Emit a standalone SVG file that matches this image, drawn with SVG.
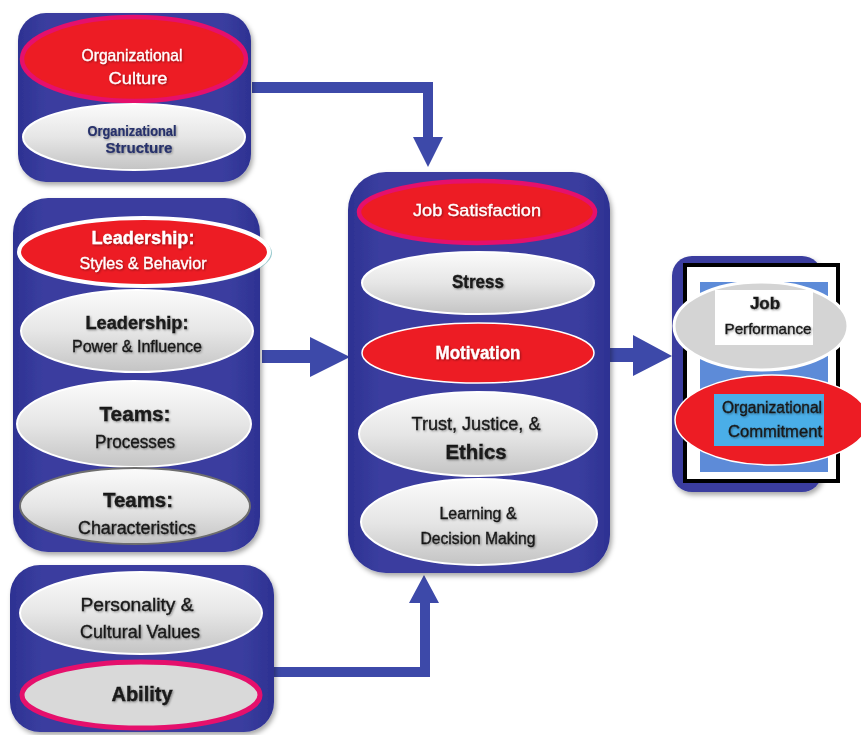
<svg xmlns="http://www.w3.org/2000/svg" width="861" height="735" viewBox="0 0 861 735">
<defs>
<linearGradient id="boxg" x1="0" y1="0" x2="1" y2="0">
<stop offset="0" stop-color="#2d3192"/>
<stop offset="0.12" stop-color="#3a3e9f"/>
<stop offset="0.88" stop-color="#3a3e9f"/>
<stop offset="1" stop-color="#2d3192"/>
</linearGradient>
<linearGradient id="grayg" x1="0" y1="0" x2="0" y2="1">
<stop offset="0" stop-color="#fbfbfb"/>
<stop offset="0.5" stop-color="#e6e6e6"/>
<stop offset="1" stop-color="#c4c4c4"/>
</linearGradient>
<filter id="sh" x="-10%" y="-10%" width="125%" height="125%">
<feDropShadow dx="2" dy="3" stdDeviation="2.5" flood-color="#000" flood-opacity="0.35"/>
</filter>
<filter id="ts" x="-10%" y="-30%" width="120%" height="160%">
<feDropShadow dx="1" dy="1" stdDeviation="1" flood-color="#000" flood-opacity="0.4"/>
</filter>
</defs>
<style>
.box{fill:url(#boxg);filter:url(#sh)}
.gray{fill:url(#grayg);stroke:#ffffff;stroke-width:2}
.red{fill:#ed1c24;stroke:#ffffff;stroke-width:1.5}
.redp{fill:#ed1c24;stroke:#e5106c;stroke-width:4.5}
.arrow{fill:#3d49a9}
text{font-family:"Liberation Sans",Arial,sans-serif;text-anchor:middle;filter:url(#ts)}
.w{fill:#ffffff;stroke:#ffffff;stroke-width:0.3}
.k{fill:#1a1a1a;stroke:#1a1a1a;stroke-width:0.35}
.n{fill:#26306a;stroke:#26306a;stroke-width:0.2;font-weight:bold}
.b{font-weight:bold}
</style>
<rect width="861" height="735" fill="#ffffff"/>

<g id="connectors">
<path class="arrow" d="M252,82 H433 V137 H443 L428,167 L413,137 H423 V93 H252 Z"/>
<path class="arrow" d="M262,350 H310 V337 L350,357 L310,377 V363 H262 Z"/>
<path class="arrow" d="M273,667 H420 V603 H409 L424,575 L439,603 H430 V677 H273 Z"/>
<path class="arrow" d="M610,348 H633 V335 L672,356 L633,376 V362 H610 Z"/>
</g>

<g id="org-box">
<rect class="box" x="18" y="13" width="233" height="169" rx="28"/>
<g id="org-culture">
<ellipse class="redp" cx="134" cy="59" rx="112" ry="42"/>
<text class="w" x="132" y="61" font-size="17" textLength="101" lengthAdjust="spacingAndGlyphs">Organizational</text>
<text class="w" x="138" y="84" font-size="17" textLength="59" lengthAdjust="spacingAndGlyphs">Culture</text>
</g>
<g id="org-structure">
<ellipse class="gray" cx="134" cy="137" rx="111" ry="33"/>
<text class="n" x="132" y="136" font-size="15" textLength="89" lengthAdjust="spacingAndGlyphs">Organizational</text>
<text class="n" x="139" y="153" font-size="15" textLength="67" lengthAdjust="spacingAndGlyphs">Structure</text>
</g>
</g>

<g id="leadership-box">
<rect class="box" x="13" y="198" width="247" height="354" rx="35"/>
<g id="leadership-styles">
<ellipse cx="146" cy="253" rx="126" ry="35" fill="#5aa9b0" opacity="0.6"/>
<ellipse cx="144" cy="252" rx="125" ry="34" fill="#ed1c24" stroke="#ffffff" stroke-width="4"/>
<text class="w b" x="143" y="244" font-size="18" textLength="103" lengthAdjust="spacingAndGlyphs">Leadership:</text>
<text class="w" x="143" y="269" font-size="16" textLength="127" lengthAdjust="spacingAndGlyphs">Styles &amp; Behavior</text>
</g>
<g id="leadership-power">
<ellipse class="gray" cx="137" cy="331" rx="116" ry="41"/>
<text class="k b" x="137" y="329" font-size="18" textLength="103" lengthAdjust="spacingAndGlyphs">Leadership:</text>
<text class="k" x="137" y="352" font-size="16" textLength="130" lengthAdjust="spacingAndGlyphs">Power &amp; Influence</text>
</g>
<g id="teams-processes">
<ellipse class="gray" cx="134" cy="424" rx="117" ry="43"/>
<text class="k b" x="135" y="421" font-size="20" textLength="71" lengthAdjust="spacingAndGlyphs">Teams:</text>
<text class="k" x="135" y="448" font-size="18" textLength="80" lengthAdjust="spacingAndGlyphs">Processes</text>
</g>
<g id="teams-characteristics">
<ellipse cx="135" cy="506" rx="115" ry="38" fill="url(#grayg)" stroke="#6e6e6e" stroke-width="2"/>
<text class="k b" x="138" y="507" font-size="20" textLength="70" lengthAdjust="spacingAndGlyphs">Teams:</text>
<text class="k" x="137" y="534" font-size="18" textLength="118" lengthAdjust="spacingAndGlyphs">Characteristics</text>
</g>
</g>

<g id="individual-box">
<rect class="box" x="10" y="565" width="264" height="167" rx="30"/>
<g id="personality">
<ellipse class="gray" cx="141" cy="613" rx="121" ry="41"/>
<text class="k" x="137" y="611" font-size="18" textLength="113" lengthAdjust="spacingAndGlyphs">Personality &amp;</text>
<text class="k" x="140" y="638" font-size="18" textLength="120" lengthAdjust="spacingAndGlyphs">Cultural Values</text>
</g>
<g id="ability">
<ellipse cx="141" cy="695" rx="119" ry="33" fill="#d9d9d9" stroke="#e5106c" stroke-width="5"/>
<text class="k b" x="142" y="701" font-size="20" textLength="61" lengthAdjust="spacingAndGlyphs">Ability</text>
</g>
</g>

<g id="center-box">
<rect class="box" x="348" y="172" width="262" height="401" rx="38"/>
<g id="job-satisfaction">
<ellipse class="redp" cx="477" cy="212" rx="118" ry="31"/>
<text class="w" x="477" y="216" font-size="17" textLength="128" lengthAdjust="spacingAndGlyphs">Job Satisfaction</text>
</g>
<g id="stress">
<ellipse class="gray" cx="478" cy="283" rx="116" ry="31"/>
<text class="k b" x="478" y="288" font-size="18" textLength="52" lengthAdjust="spacingAndGlyphs">Stress</text>
</g>
<g id="motivation">
<ellipse class="red" cx="478" cy="353" rx="116" ry="30"/>
<text class="w b" x="478" y="359" font-size="18" textLength="85" lengthAdjust="spacingAndGlyphs">Motivation</text>
</g>
<g id="trust">
<ellipse class="gray" cx="478" cy="434" rx="119" ry="42"/>
<text class="k" x="476" y="430" font-size="18" textLength="129" lengthAdjust="spacingAndGlyphs">Trust, Justice, &amp;</text>
<text class="k b" x="476" y="459" font-size="20" textLength="61" lengthAdjust="spacingAndGlyphs">Ethics</text>
</g>
<g id="learning">
<ellipse class="gray" cx="479" cy="522" rx="118" ry="43"/>
<text class="k" x="478" y="519" font-size="16" textLength="77" lengthAdjust="spacingAndGlyphs">Learning &amp;</text>
<text class="k" x="478" y="544" font-size="16" textLength="115" lengthAdjust="spacingAndGlyphs">Decision Making</text>
</g>
</g>

<g id="outcome-box">
<rect x="672" y="256" width="150" height="236" rx="20" fill="#3a3e9f" filter="url(#sh)"/>
<rect x="685" y="265" width="153" height="216" fill="#ffffff" stroke="#000000" stroke-width="4"/>
<rect x="700" y="282" width="128" height="190" fill="#5d8bd8"/>
<g id="job-performance">
<ellipse cx="761" cy="326" rx="87" ry="44" fill="#d4d4d4" stroke="#ffffff" stroke-width="3"/>
<rect x="715" y="290" width="98" height="55" fill="#ffffff"/>
<text class="k b" x="765" y="309" font-size="17">Job</text>
<text class="k" x="768" y="334" font-size="15" textLength="87" lengthAdjust="spacingAndGlyphs">Performance</text>
</g>
<g id="org-commitment">
<ellipse cx="772" cy="420" rx="97" ry="45" fill="#ed1c24" stroke="#ffffff" stroke-width="1.5"/>
<rect x="714" y="394" width="110" height="52" fill="#4aaee8"/>
<text class="k" x="772" y="413" font-size="16" textLength="100" lengthAdjust="spacingAndGlyphs">Organizational</text>
<text class="k" x="775" y="437" font-size="16" textLength="94" lengthAdjust="spacingAndGlyphs">Commitment</text>
</g>
</g>
</svg>
